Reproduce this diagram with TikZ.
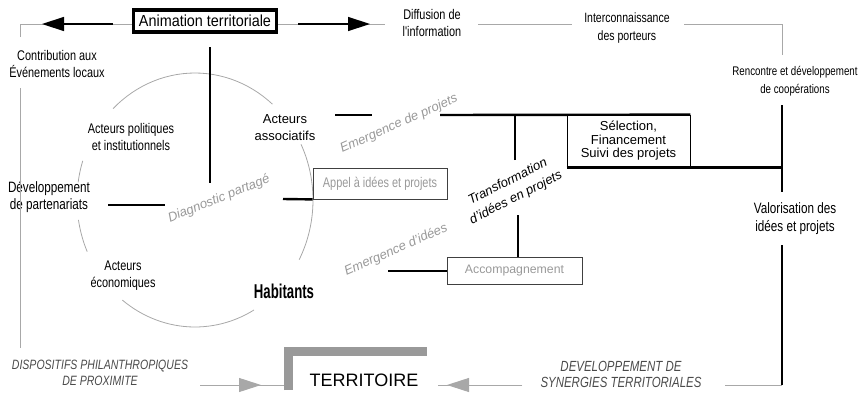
\documentclass[tikz,border=0pt]{standalone}
\usepackage{fontspec}
\setmainfont{Liberation Sans}
\newfontfamily\nar[FakeStretch=0.78]{Liberation Sans}
\newfontfamily\semi[FakeStretch=0.9]{Liberation Sans}
\newfontfamily\narb[FakeStretch=0.66]{Liberation Sans}
\usetikzlibrary{arrows.meta}
\definecolor{frame}{HTML}{A8A8A8}
\definecolor{pale}{HTML}{999999}
\definecolor{caps}{HTML}{4A4A4A}

\begin{document}
\begin{tikzpicture}[x=1pt,y=-1pt,
    lbl/.style={align=center,inner sep=0pt,font=\nar\fontsize{14}{17}\selectfont},
    ital/.style={align=center,inner sep=0pt,text=pale,font=\itshape\fontsize{13}{16}\selectfont},
    capsital/.style={align=center,inner sep=0pt,text=caps,font=\nar\itshape\fontsize{13.5}{15.5}\selectfont},
    box/.style={draw=black!75,line width=0.8pt,inner sep=0pt},
    wire/.style={line width=2.4pt},
    thinwire/.style={draw=frame,line width=0.8pt},
    blkarrow/.style={line width=1.4pt,-{Triangle[length=22pt,width=14pt]}},
    grayarrow/.style={draw=frame,line width=1pt,-{Triangle[length=22pt,width=14pt]}}]
    \useasboundingbox (0,0) rectangle (863,394);

    \foreach \a/\b in {49/134,162/172,189/204,232/300,-28/26}
        \draw[thinwire] plot[domain=\a:\b,samples=30] ({195+118*cos(\x)},{200-127*sin(\x)});

    \node[draw,line width=3.5pt,minimum width=143pt,minimum height=22pt,inner sep=0pt,
          font=\semi\fontsize{16}{18}\selectfont] (anim) at (205,21) {Animation territoriale};
    \node[lbl] (contrib) at (57,64) {Contribution aux\\Événements locaux};
    \node[lbl] (diff) at (432,23) {Diffusion de\\l'information};
    \node[lbl,font=\nar\fontsize{13.5}{18}\selectfont] (inter) at (627,28) {Interconnaissance\\des porteurs};
    \node[lbl,font=\nar\fontsize{12.5}{18}\selectfont] (renc) at (795,81) {Rencontre et développement\\de coopérations};
    \node[lbl,font=\nar\fontsize{15}{18}\selectfont] (valo) at (795,219) {Valorisation des\\idées et projets};
    \node[lbl,font=\nar\fontsize{15}{17}\selectfont] (dev) at (49,197) {Développement\\de partenariats};
    \node[lbl] (pol) at (131,137) {Acteurs politiques\\et institutionnels};
    \node[lbl] (eco) at (123,276) {Acteurs\\économiques};
    \node[lbl,font=\fontsize{13}{17}\selectfont] (asso) at (285,128) {Acteurs\\associatifs};
    \node[inner sep=0pt,font=\narb\bfseries\fontsize{20}{24}\selectfont] (hab) at (284,291) {Habitants};

    \node[ital,rotate=22] (diag) at (219,199) {Diagnostic partagé};
    \node[ital,rotate=24] (emproj) at (399,124) {Emergence de projets};
    \node[ital,rotate=24] (emid) at (396,250) {Emergence d'idées};
    \node[ital,text=black,rotate=27,font=\itshape\fontsize{13}{18}\selectfont] (transf) at (512,190) {Transformation\\d'idées en projets};

    \node[box,minimum width=134pt,minimum height=31pt,text=pale,
          font=\nar\fontsize{14}{17}\selectfont] (appel) at (380,183.5) {Appel à idées et projets};
    \node[box,minimum width=135pt,minimum height=27pt,text=pale,
          font=\fontsize{12.3}{15}\selectfont] (accomp) at (514.5,270.5) {Accompagnement};
    \node[draw,line width=0.8pt,inner sep=0pt,minimum width=123pt,minimum height=52pt,align=center,
          font=\fontsize{13}{13.5}\selectfont] (sel) at (628.5,141) {Sélection,\\Financement\\Suivi des projets};

    \node[capsital] (dispo) at (100,373) {DISPOSITIFS PHILANTHROPIQUES\\DE PROXIMITE};
    \node[capsital,font=\nar\itshape\fontsize{14.7}{16}\selectfont] (devsyn) at (621,374) {DEVELOPPEMENT DE\\SYNERGIES TERRITORIALES};
    \node[inner sep=0pt,font=\fontsize{18}{20}\selectfont] (territ) at (364,380) {TERRITOIRE};

    \coordinate (tl) at (20,24);
    \coordinate (tr) at (782,24);
    \coordinate (br) at (782,385);
    \coordinate (l1) at (20,37);
    \coordinate (l2) at (20,88);
    \coordinate (l3) at (20,348);
    \coordinate (f1) at (385,24);
    \coordinate (f2) at (478,24);
    \coordinate (f3) at (572,24);
    \coordinate (f4) at (684,24);
    \coordinate (r1) at (782,55);
    \coordinate (r2) at (782,105);
    \coordinate (r3) at (782,192);
    \coordinate (r4) at (782,245);
    \coordinate (b1) at (725,385);
    \coordinate (b2) at (522,385);
    \coordinate (b3) at (438,385);
    \coordinate (b4) at (447,385);
    \coordinate (d1) at (200,385);
    \coordinate (d2) at (261,385);
    \coordinate (d3) at (284,385);
    \coordinate (a1) at (113,24);
    \coordinate (a2) at (42,24);
    \coordinate (a3) at (298,24);
    \coordinate (a4) at (370,24);
    \coordinate (v1) at (210,47);
    \coordinate (v2) at (210,183);
    \coordinate (h1) at (108,205);
    \coordinate (h2) at (165,205);
    \coordinate (h3) at (283,199);
    \coordinate (p1) at (335,115);
    \coordinate (p2) at (372,115);
    \coordinate (p3) at (440,115);
    \coordinate (t1) at (515,160);
    \coordinate (t2) at (518,215);
    \coordinate (e1) at (388,271);

    \draw[thinwire] (l1) -- (tl) -- (anim.west |- tl);
    \draw[thinwire] (l2) -- (l3);
    \draw[thinwire] (anim.east |- tl) -- (f1);
    \draw[thinwire] (f2) -- (f3);
    \draw[thinwire] (f4) -- (tr) -- (r1);
    \draw[thinwire] (br) -- (b1);
    \draw[thinwire] (b2) -- (b3);
    \draw[grayarrow] (b2) -- (b4);
    \draw[thinwire] (d1) -- (d3);
    \draw[grayarrow] (d1) -- (d2);
    \draw[blkarrow] (a1) -- (a2);
    \draw[blkarrow] (a3) -- (a4);

    \draw[wire] (v1) -- (v2);
    \draw[wire] (h1) -- (h2);
    \draw[wire] (h3) -- (appel.south west);
    \draw[wire] (p1) -- (p2);
    \draw[wire] (p3) -- (sel.north east);
    \draw[wire] (t1) -- (t1 |- p3);
    \draw[wire] (t2) -- (t2 |- accomp.north);
    \draw[wire] (e1) -- (accomp.west |- e1);
    \draw[wire] (sel.south west) -- (r2 |- sel.south);
    \draw[wire] (r2) -- (r3);
    \draw[wire] (r4) -- (br);

    \draw[draw=pale,line width=9pt] (288,390) -- (288,351.5) -- (427,351.5);
\end{tikzpicture}
\end{document}
